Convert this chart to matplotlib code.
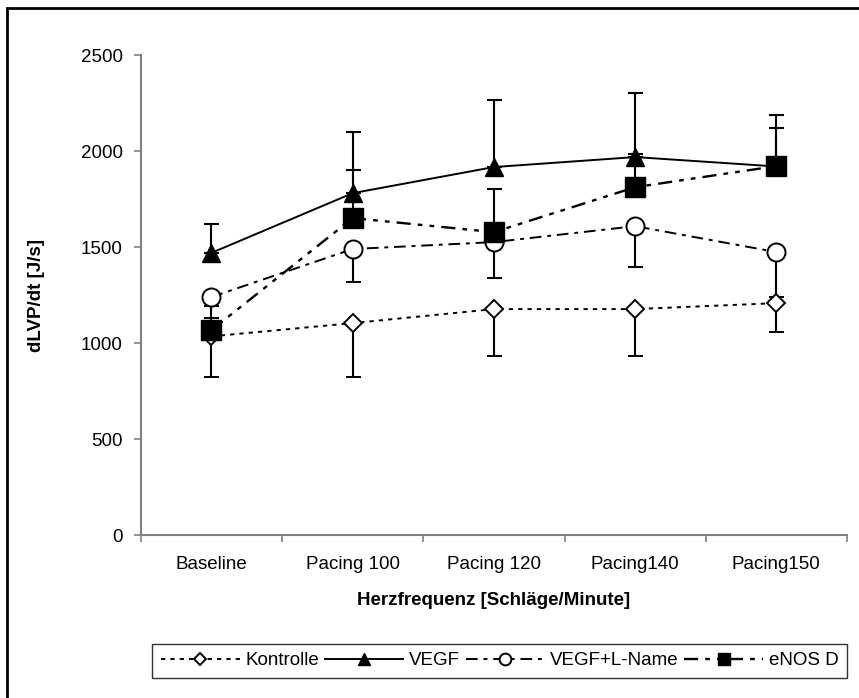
import numpy as np
import matplotlib.pyplot as plt
from matplotlib.patches import Rectangle

plt.rcParams['font.family'] = ['Liberation Sans', 'DejaVu Sans']

# Daten
kategorien = ['Baseline', 'Pacing 100', 'Pacing 120', 'Pacing140', 'Pacing150']

kontrolle = [1035, 1104, 1177, 1177, 1208]
kontrolle_err = [212, 281, 245, 245, 151]      # nur nach unten

vegf = [1470, 1781, 1917, 1969, 1920]
vegf_err = [150, 318, 349, 333, 267]           # nur nach oben

lname = [1240, 1490, 1526, 1609, 1474]
lname_err = [110, 172, 186, 213, 234]          # nur nach unten

enos = [1068, 1651, 1578, 1812, 1922]
enos_err = [125, 250, 224, 172, 198]           # nur nach oben

x = np.arange(len(kategorien))
null = np.zeros(len(x))

fig = plt.figure(figsize=(8.59, 6.98), dpi=100)
ax = fig.add_axes([0.164, 0.2335, 0.822, 0.6875])

fs = 13.5
lw = 1.4
eb = dict(ecolor='black', elinewidth=1.5, capsize=5.4, capthick=1.5)

ax.errorbar(x, kontrolle, yerr=[kontrolle_err, null], color='black', lw=lw,
            ls=(0, (2.2, 2.6)), marker='D', ms=9.5, mfc='white', mec='black',
            mew=1.4, label='Kontrolle', **eb)
ax.errorbar(x, vegf, yerr=[null, vegf_err], color='black', lw=lw, ls='-',
            marker='^', ms=13, mfc='black', mec='black', label='VEGF', **eb)
ax.errorbar(x, lname, yerr=[lname_err, null], color='black', lw=lw,
            ls=(0, (6, 3, 2, 3)), marker='o', ms=13, mfc='white', mec='black',
            mew=1.4, label='VEGF+L-Name', **eb)
ax.errorbar(x, enos, yerr=[null, enos_err], color='black', lw=lw + 0.3,
            ls=(0, (6, 3, 2, 3, 2, 3)), marker='s', ms=14, mfc='black',
            mec='black', label='eNOS D', **eb)

ax.set_xlim(-0.5, len(x) - 0.5)
ax.set_ylim(0, 2500)
ax.set_yticks(np.arange(0, 2501, 500))
ax.set_xticks(x)
ax.set_xticklabels(kategorien, fontsize=fs)
ax.set_xticks(np.arange(-0.5, len(x)), minor=True)
ax.tick_params(axis='x', which='major', length=0, pad=15)
ax.tick_params(axis='x', which='minor', length=5, color='#808080', width=1.2)
ax.tick_params(axis='y', length=5, color='#808080', width=1.2, labelsize=fs, pad=8)

for s in ['top', 'right']:
    ax.spines[s].set_visible(False)
for s in ['left', 'bottom']:
    ax.spines[s].set_color('#808080')
    ax.spines[s].set_linewidth(1.5)

ax.set_ylabel('dLVP/dt [J/s]', fontsize=fs, fontweight='bold', labelpad=26)
ax.set_xlabel('Herzfrequenz [Schläge/Minute]', fontsize=fs, fontweight='bold', labelpad=14)

h, l = ax.get_legend_handles_labels()
h = [hh[0] for hh in h]
leg = fig.legend(h, l, loc='lower left', bbox_to_anchor=(143 / 859, 1 - 687 / 698),
                 ncol=4, fontsize=fs, frameon=True, fancybox=False,
                 handlelength=4.2, handletextpad=0.3, columnspacing=0.3,
                 borderpad=0.45, markerscale=0.65)
leg.get_frame().set_edgecolor('black')
leg.get_frame().set_linewidth(1.0)

# Rahmen um die ganze Grafik
fig.patches.append(Rectangle((7 / 859, -0.05), 1.1, 1 - 8 / 698 + 0.05,
                             transform=fig.transFigure, fill=False,
                             edgecolor='black', lw=2, clip_on=False))

fig.savefig('out.png', dpi=100)
